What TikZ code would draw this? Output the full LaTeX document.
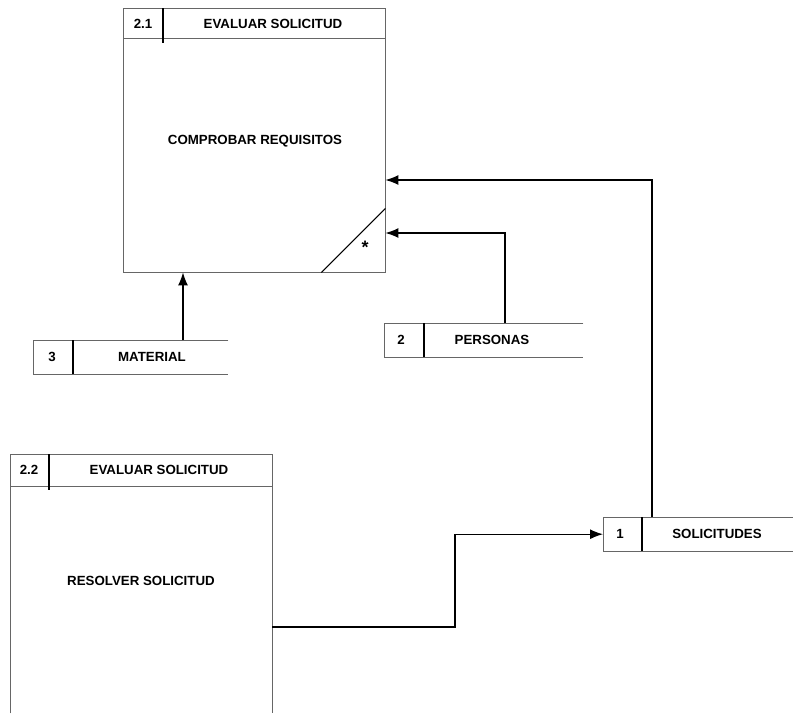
\documentclass[tikz,border=0pt]{standalone}
\usepackage{fontspec}
\setmainfont{Liberation Sans}
\usetikzlibrary{arrows.meta}
\newcommand{\dfdfont}{\fontsize{13.3}{15}\selectfont\bfseries}
\tikzset{
  edge/.style={draw=black!60, line width=0.7pt},
  div/.style={draw=black, line width=1.5pt},
  diag/.style={draw=black, line width=1.1pt},
  flow/.style={draw=black, line width=1.3pt, -{Latex[length=13pt,width=10pt]}},
  area/.style={rectangle, inner sep=0pt, anchor=north west},
  lbl/.style={font=\dfdfont, inner sep=0pt},
}
\begin{document}
\begin{tikzpicture}[x=1pt,y=-1pt]
\useasboundingbox[fill=white] (0,0) rectangle (793,713);

% ---------- Process 2.1 ----------
\node[area, minimum width=262pt, minimum height=264pt] (p21) at (123,8) {};
\draw[edge] (p21.north west) rectangle (p21.south east);
\draw[edge] ([yshift=-30pt]p21.north west) -- ([yshift=-30pt]p21.north east);
\draw[div] ([xshift=40pt]p21.north west) -- ([xshift=40pt,yshift=-35pt]p21.north west);
\draw[diag] ([xshift=-64pt]p21.south east) -- ([yshift=64pt]p21.south east);
\node[lbl] (p21id) at (143,24) {2.1};
\node[lbl] (p21t) at (273,24) {EVALUAR SOLICITUD};
\node[lbl] (p21n) at (255,141) {COMPROBAR REQUISITOS};
\node[lbl, font=\bfseries\fontsize{18}{18}\selectfont] (p21s) at (365,247) {*};

% ---------- Process 2.2 ----------
\node[area, minimum width=262pt, minimum height=259pt] (p22) at (10,454) {};
\draw[edge] (p22.south west) -- (p22.north west) -- (p22.north east) -- (p22.south east);
\draw[edge] ([yshift=-32pt]p22.north west) -- ([yshift=-32pt]p22.north east);
\draw[div] ([xshift=39pt]p22.north west) -- ([xshift=39pt,yshift=-36pt]p22.north west);
\node[lbl] (p22id) at (29,470) {2.2};
\node[lbl] (p22t) at (159,470) {EVALUAR SOLICITUD};
\node[lbl] (p22n) at (141,581) {RESOLVER SOLICITUD};

% ---------- Store 3 ----------
\node[area, minimum width=195pt, minimum height=34pt] (s3) at (33,340) {};
\draw[edge] (s3.north east) -- (s3.north west) -- (s3.south west) -- (s3.south east);
\draw[div] ([xshift=40pt]s3.north west) -- ([xshift=40pt]s3.south west);
\node[lbl] (s3id) at (52,357) {3};
\node[lbl] (s3t) at (152,357) {MATERIAL};

% ---------- Store 2 ----------
\node[area, minimum width=199pt, minimum height=34pt] (s2) at (384,323) {};
\draw[edge] (s2.north east) -- (s2.north west) -- (s2.south west) -- (s2.south east);
\draw[div] ([xshift=40pt]s2.north west) -- ([xshift=40pt]s2.south west);
\node[lbl] (s2id) at (401,340) {2};
\node[lbl] (s2t) at (492,340) {PERSONAS};

% ---------- Store 1 ----------
\node[area, minimum width=190pt, minimum height=34pt] (s1) at (603,517) {};
\draw[edge] (s1.north east) -- (s1.north west) -- (s1.south west) -- (s1.south east);
\draw[div] ([xshift=39pt]s1.north west) -- ([xshift=39pt]s1.south west);
\node[lbl] (s1id) at (620,534) {1};
\node[lbl] (s1t) at (717,534) {SOLICITUDES};

% ---------- helper coordinates ----------
\coordinate (xa) at (183,0);
\coordinate (xb) at (505,0);
\coordinate (xc) at (652,0);
\coordinate (xd) at (455,0);
\coordinate (ya) at (0,180);
\coordinate (yb) at (0,233);
\coordinate (yc) at (0,627);

% ---------- flows ----------
\draw[flow] (s3.north -| xa) -- (p21.south -| xa);
\draw[flow] (s2.north -| xb) |- (p21.east |- yb);
\draw[flow] (s1.north -| xc) |- (p21.east |- ya);
\draw[flow] (p22.east |- yc) -- (yc -| xd) |- (s1.west);
\end{tikzpicture}
\end{document}
